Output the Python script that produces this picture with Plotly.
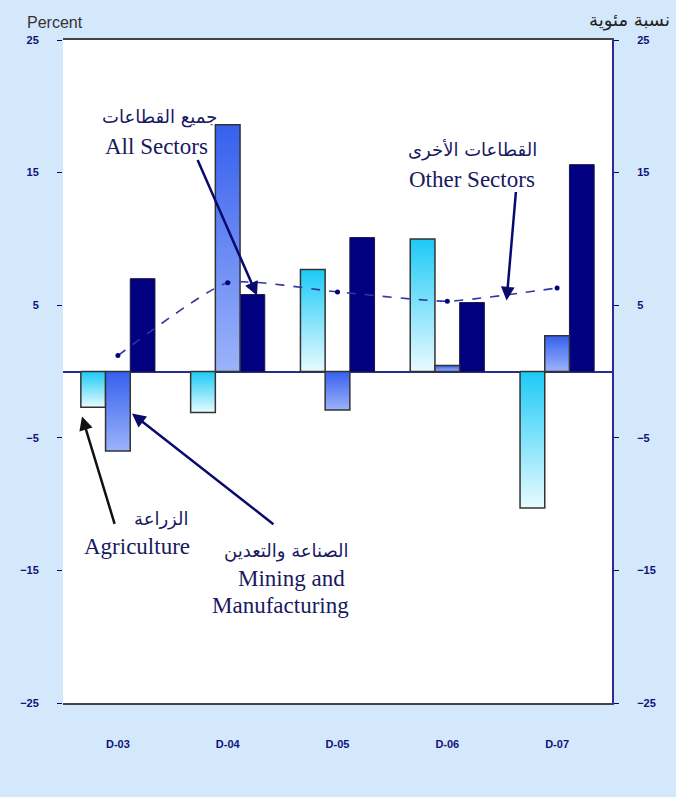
import plotly.graph_objects as go

periods = ["D-03", "D-04", "D-05", "D-06", "D-07"]
agriculture = [-2.7, -3.1, 7.7, 10.0, -10.3]
mining = [-6.0, 18.6, -2.9, 0.45, 2.7]
other_sectors = [7.0, 5.8, 10.1, 5.2, 15.6]
all_sectors = [1.2, 6.7, 6.0, 5.3, 6.3]
y_ticks = [-25, -15, -5, 5, 15, 25]

NAVY = "#000080"
TEXT = "#191960"
BAR_W = 0.225

fig = go.Figure()


def gradient_bars(values, shift, bottom, top, name):
    # one filled trace per bar so each gets its own vertical gradient
    for i, v in enumerate(values):
        x0 = i + shift - BAR_W / 2
        x1 = x0 + BAR_W
        fig.add_trace(go.Scatter(
            x=[x0, x0, x1, x1, x0],
            y=[0, v, v, 0, 0],
            mode="lines",
            fill="toself",
            fillgradient=dict(type="vertical", colorscale=[[0, bottom], [1, top]]),
            line=dict(color="#333333", width=1.5),
            name=name,
            showlegend=False,
            hoverinfo="skip"
        ))


gradient_bars(agriculture, -BAR_W, "#e8fbff", "#1ccaf6", "Agriculture")
gradient_bars(mining, 0, "#9cb3fa", "#3660ee", "Mining and Manufacturing")

fig.add_trace(go.Bar(
    x=list(range(len(periods))),
    y=other_sectors,
    width=BAR_W,
    offset=BAR_W / 2,
    marker=dict(color=NAVY, line=dict(color="#1a1a40", width=1)),
    name="Other Sectors",
    showlegend=False
))

fig.add_trace(go.Scatter(
    x=list(range(len(periods))),
    y=all_sectors,
    mode="lines+markers",
    line=dict(color="#3535a5", width=1.6, dash="dash", shape="spline", smoothing=0.5),
    marker=dict(color=NAVY, size=5),
    name="All Sectors",
    showlegend=False
))

# invisible trace to activate right axis
fig.add_trace(go.Scatter(x=[0], y=[0], yaxis="y2", mode="markers",
                         marker=dict(opacity=0), showlegend=False, hoverinfo="skip"))

tick_font = dict(family="Liberation Sans", size=11, color="#12127a", weight="bold")

fig.update_layout(
    width=676,
    height=797,
    margin=dict(l=63, r=64, t=40, b=94),
    paper_bgcolor="#d4e8fc",
    plot_bgcolor="white",
    showlegend=False,
    xaxis=dict(
        range=[-0.5, 4.5],
        tickvals=list(range(len(periods))),
        ticktext=periods,
        ticks="outside",
        ticklen=30,
        tickcolor="rgba(0,0,0,0)",
        showline=True,
        linecolor="#444444",
        linewidth=2,
        mirror=True,
        showgrid=False,
        zeroline=False,
        tickfont=tick_font
    ),
    yaxis=dict(
        range=[-25, 25],
        tickvals=y_ticks,
        ticks="outside",
        ticklen=5,
        tickcolor=NAVY,
        ticklabelstandoff=16,
        showgrid=False,
        zeroline=True,
        zerolinecolor="#2a2a90",
        zerolinewidth=2,
        showline=False,
        tickfont=tick_font
    ),
    yaxis2=dict(
        range=[-25, 25],
        tickvals=y_ticks,
        overlaying="y",
        side="right",
        ticks="outside",
        ticklen=5,
        tickcolor=NAVY,
        ticklabelstandoff=16,
        showline=True,
        linecolor="#2b2b90",
        linewidth=2,
        showgrid=False,
        zeroline=False,
        tickfont=tick_font
    )
)

en_font = dict(family="Liberation Serif", size=23, color=TEXT)
ar_font = dict(family="DejaVu Sans", size=18, color=TEXT)

labels = [
    ("جميع القطاعات", 0.383, 19.2, ar_font),
    ("All Sectors", 0.356, 16.97, en_font),
    ("القطاعات الأخرى", 3.234, 16.67, ar_font),
    ("Other Sectors", 3.225, 14.48, en_font),
    ("الزراعة", 0.393, -11.09, ar_font),
    ("Agriculture", 0.174, -13.2, en_font),
    ("الصناعة والتعدين", 1.531, -13.5, ar_font),
    ("Mining and", 1.577, -15.61, en_font),
    ("Manufacturing", 1.485, -17.65, en_font),
]
for text, x, y, font in labels:
    fig.add_annotation(x=x, y=y, text=text, showarrow=False, font=font)

arrows = [
    (1.267, 5.73, 0.72, 16.06, "#0a0a6e"),
    (3.54, 5.35, 3.626, 13.65, "#0a0a6e"),
    (-0.327, -3.39, -0.026, -11.6, "#111111"),
    (0.128, -3.17, 1.43, -11.6, "#0a0a6e"),
]
for x, y, ax, ay, color in arrows:
    fig.add_annotation(x=x, y=y, ax=ax, ay=ay, xref="x", yref="y", axref="x", ayref="y",
                       text="", showarrow=True, arrowhead=2, arrowsize=1.1,
                       arrowwidth=2.5, arrowcolor=color)

fig.add_annotation(x=-0.069, y=1.027, xref="paper", yref="paper", text="Percent",
                   showarrow=False, xanchor="left", yanchor="middle",
                   font=dict(family="Liberation Sans", size=16, color="#333333"))
fig.add_annotation(x=1.109, y=1.03, xref="paper", yref="paper", text="نسبة مئوية",
                   showarrow=False, xanchor="right", yanchor="middle",
                   font=dict(family="DejaVu Sans", size=18, color="#222222"))

fig.write_html("out.html", config={"displayModeBar": False},
               post_script="document.body.style.margin='0';")
